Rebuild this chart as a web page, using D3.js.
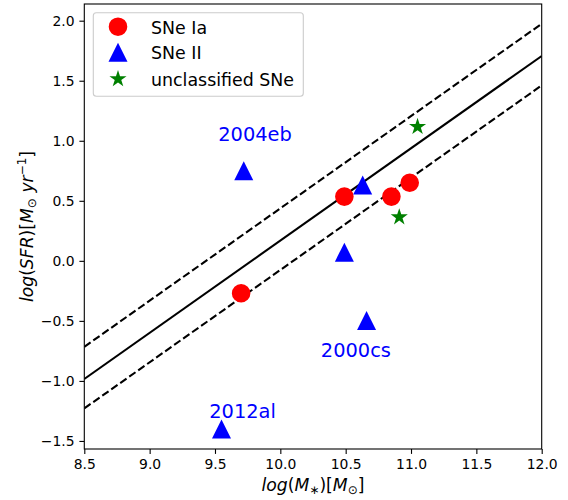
<!DOCTYPE html>
<html><head><meta charset="utf-8">
<script src="https://cdn.jsdelivr.net/npm/d3@7"></script>
<style>
body{margin:0;background:#fff;}
text{font-family:"DejaVu Sans",sans-serif;}
</style></head>
<body><svg id="c" width="568" height="500"></svg>
<script>
// Data
const snIaX = [9.70, 10.49, 10.85, 10.99];
const snIaY = [-0.27, 0.535, 0.535, 0.65];
const snIIX = [9.72, 10.63, 10.49, 10.66, 9.55];
const snIIY = [0.75, 0.632, 0.072, -0.497, -1.40];
const unclX = [11.05, 10.91];
const unclY = [1.117, 0.364];
const labelNames = ["2004eb", "2000cs", "2012al"];
const labelX = [9.525, 10.31, 9.456];
const labelY = [1.0, -0.797, -1.305];
const relSlope = 0.7686;
const relIntercepts = [-0.984, -0.716, -1.229]; // value at x=8.5: solid, upper dashed, lower dashed
const relStyles = ["solid", "dashed", "dashed"];
const xTicks = [8.5, 9.0, 9.5, 10.0, 10.5, 11.0, 11.5, 12.0];
const yTicks = [-1.5, -1.0, -0.5, 0.0, 0.5, 1.0, 1.5, 2.0];
const xDomain = [8.5, 12.0];
const yDomain = [-1.567, 2.139];
const legNames = ["SNe Ia","SNe II","unclassified SNe"];

const L = 84.3, R = 541.7, T = 4, B = 449;
const svg = d3.select("#c");
const x = d3.scaleLinear().domain(xDomain).range([L, R]);
const y = d3.scaleLinear().domain(yDomain).range([B, T]);
const fmt = v => d3.format(".1f")(v).replace("-", "\u2212");

svg.append("clipPath").attr("id","clip").append("rect")
  .attr("x", L).attr("y", T).attr("width", R-L).attr("height", B-T);

// relation lines
const lineG = svg.append("g").attr("clip-path","url(#clip)");
relIntercepts.forEach((b,i)=>{
  const pts = xDomain.map(xv => [xv, b + relSlope*(xv-8.5)]);
  lineG.append("path")
    .attr("d", d3.line().x(d=>x(d[0])).y(d=>y(d[1]))(pts))
    .attr("stroke","#000").attr("stroke-width",2.08).attr("fill","none")
    .attr("stroke-dasharray", relStyles[i]==="dashed" ? "7.7,3.3" : null);
});

// markers
const circleSym = d3.symbol().type(d3.symbolCircle).size(Math.PI*9.3*9.3);
function triPath(s){ return `M0,${-s}L${s},${s}L${-s},${s}Z`; }
function starPath(r){
  const ri = r*0.381966; let p="";
  for(let k=0;k<10;k++){
    const a = -Math.PI/2 + k*Math.PI/5;
    const rr = k%2===0 ? r : ri;
    p += (k===0?"M":"L") + (rr*Math.cos(a)).toFixed(3) + "," + (rr*Math.sin(a)).toFixed(3);
  }
  return p+"Z";
}
const ptsG = svg.append("g");
snIaX.forEach((xv,i)=>ptsG.append("path").attr("d",circleSym())
  .attr("transform",`translate(${x(xv)},${y(snIaY[i])})`).attr("fill","#ff0000"));
snIIX.forEach((xv,i)=>ptsG.append("path").attr("d",triPath(9.5))
  .attr("transform",`translate(${x(xv)},${y(snIIY[i])})`).attr("fill","#0000ff"));
unclX.forEach((xv,i)=>ptsG.append("path").attr("d",starPath(9))
  .attr("transform",`translate(${x(xv)},${y(unclY[i])})`).attr("fill","#008000"));

// labels
labelNames.forEach((t,i)=>svg.append("text").attr("x",x(labelX[i])).attr("y",y(labelY[i]))
  .attr("fill","#0000ff").attr("font-size","19.4px").text(t));

// axes
const xAxis = svg.append("g").attr("transform",`translate(0,${B})`)
  .call(d3.axisBottom(x).tickValues(xTicks).tickFormat(fmt).tickSizeOuter(0).tickSize(4.9).tickPadding(4.9));
const yAxis = svg.append("g").attr("transform",`translate(${L},0)`)
  .call(d3.axisLeft(y).tickValues(yTicks).tickFormat(fmt).tickSizeOuter(0).tickSize(4.9).tickPadding(4.9));
[xAxis,yAxis].forEach(a=>{
  a.select(".domain").remove();
  a.selectAll("line").attr("stroke","#000").attr("stroke-width",1.1);
  a.selectAll("text").attr("font-size","13.9px").attr("fill","#000").attr("font-family","DejaVu Sans");
});
svg.append("rect").attr("x",L).attr("y",T).attr("width",R-L).attr("height",B-T)
  .attr("fill","none").attr("stroke","#000").attr("stroke-width",1.1);

// axis labels (mathtext-like)
const xl = svg.append("text").attr("x",(L+R)/2).attr("y",491).attr("text-anchor","middle")
  .attr("font-size","17.2px").attr("font-family","DejaVu Sans");
xl.append("tspan").attr("font-style","italic").text("log");
xl.append("tspan").text("(");
xl.append("tspan").attr("font-style","italic").text("M");
xl.append("tspan").attr("font-size","12px").attr("dy","3").text("\u2217");
xl.append("tspan").attr("dy","-3").text(")[");
xl.append("tspan").attr("font-style","italic").text("M");
xl.append("tspan").attr("font-size","12px").attr("dy","3").text("\u2299");
xl.append("tspan").attr("dy","-3").text("]");

const yl = svg.append("text").attr("transform",`translate(33,${(T+B)/2}) rotate(-90)`)
  .attr("text-anchor","middle").attr("font-size","17.2px").attr("font-family","DejaVu Sans");
yl.append("tspan").attr("font-style","italic").text("log");
yl.append("tspan").text("(");
yl.append("tspan").attr("font-style","italic").text("SFR");
yl.append("tspan").text(")[");
yl.append("tspan").attr("font-style","italic").text("M");
yl.append("tspan").attr("font-size","12px").attr("dy","3").text("\u2299");
yl.append("tspan").attr("dy","-3").attr("font-style","italic").text(" yr");
yl.append("tspan").attr("font-size","12px").attr("dy","-7").text("\u22121");
yl.append("tspan").attr("dy","7").text("]");

// legend
const lg = svg.append("g");
lg.append("rect").attr("x",93.3).attr("y",12.7).attr("width",210).attr("height",83.5)
  .attr("rx",3).attr("fill","#fff").attr("fill-opacity",0.8).attr("stroke","#cccccc").attr("stroke-width",1.1);
const legRows = [26.7, 52.3, 79];
lg.append("path").attr("d",circleSym()).attr("transform",`translate(118,${legRows[0]})`).attr("fill","#ff0000");
lg.append("path").attr("d",triPath(9.5)).attr("transform",`translate(118,${legRows[1]})`).attr("fill","#0000ff");
lg.append("path").attr("d",starPath(9)).attr("transform",`translate(118,${legRows[2]})`).attr("fill","#008000");
legNames.forEach((t,i)=>lg.append("text").attr("x",151).attr("y",legRows[i]+6.8).attr("font-size","17.4px").text(t));
</script></body></html>
